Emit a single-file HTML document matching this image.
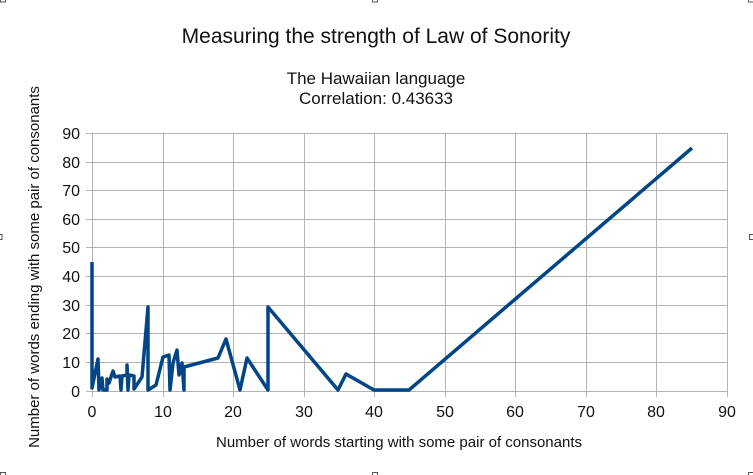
<!DOCTYPE html>
<html><head><style>body{margin:0;background:#fff}svg{display:block}</style></head><body>
<svg width="753" height="475" xmlns="http://www.w3.org/2000/svg" font-family="Liberation Sans, sans-serif">
<rect width="753" height="475" fill="#fff"/>
<g fill="none" stroke="#555" stroke-width="1">
<rect x="0.5" y="-3" width="5" height="5"/><rect x="372.5" y="-3" width="5" height="5"/><rect x="748.5" y="-3" width="5" height="5"/>
<rect x="-3" y="234.5" width="5" height="5"/><rect x="749.5" y="234.5" width="5" height="5"/>
<rect x="0.5" y="472.5" width="5" height="5"/><rect x="372.5" y="472.5" width="5" height="5"/><rect x="748.5" y="472.5" width="5" height="5"/>
</g>
<text x="376" y="43" font-size="21" text-anchor="middle" fill="#111">Measuring the strength of Law of Sonority</text>
<text x="376" y="84" font-size="17" text-anchor="middle" fill="#111">The Hawaiian language</text>
<text x="376" y="104" font-size="17" text-anchor="middle" fill="#111">Correlation: 0.43633</text>
<g stroke="#b3b3b3" stroke-width="1">
<line x1="92" y1="133.5" x2="727" y2="133.5"/><line x1="92" y1="162.5" x2="727" y2="162.5"/><line x1="92" y1="190.5" x2="727" y2="190.5"/><line x1="92" y1="219.5" x2="727" y2="219.5"/><line x1="92" y1="247.5" x2="727" y2="247.5"/><line x1="92" y1="276.5" x2="727" y2="276.5"/><line x1="92" y1="305.5" x2="727" y2="305.5"/><line x1="92" y1="333.5" x2="727" y2="333.5"/><line x1="92" y1="362.5" x2="727" y2="362.5"/><line x1="86" y1="391.5" x2="727" y2="391.5"/>
<line x1="92.5" y1="133" x2="92.5" y2="397"/><line x1="163.5" y1="133" x2="163.5" y2="397"/><line x1="233.5" y1="133" x2="233.5" y2="397"/><line x1="304.5" y1="133" x2="304.5" y2="397"/><line x1="374.5" y1="133" x2="374.5" y2="397"/><line x1="445.5" y1="133" x2="445.5" y2="397"/><line x1="515.5" y1="133" x2="515.5" y2="397"/><line x1="586.5" y1="133" x2="586.5" y2="397"/><line x1="656.5" y1="133" x2="656.5" y2="397"/><line x1="727.5" y1="133" x2="727.5" y2="397"/>
<line x1="86" y1="133.5" x2="92" y2="133.5"/><line x1="86" y1="162.5" x2="92" y2="162.5"/><line x1="86" y1="190.5" x2="92" y2="190.5"/><line x1="86" y1="219.5" x2="92" y2="219.5"/><line x1="86" y1="247.5" x2="92" y2="247.5"/><line x1="86" y1="276.5" x2="92" y2="276.5"/><line x1="86" y1="305.5" x2="92" y2="305.5"/><line x1="86" y1="333.5" x2="92" y2="333.5"/><line x1="86" y1="362.5" x2="92" y2="362.5"/>
</g>
<g font-size="16" fill="#111" text-anchor="end">
<text x="80" y="139">90</text><text x="80" y="168">80</text><text x="80" y="196">70</text><text x="80" y="225">60</text><text x="80" y="253">50</text><text x="80" y="282">40</text><text x="80" y="311">30</text><text x="80" y="339">20</text><text x="80" y="368">10</text><text x="80" y="397">0</text>
</g>
<g font-size="16" fill="#111" text-anchor="middle">
<text x="92" y="417">0</text><text x="163" y="417">10</text><text x="233" y="417">20</text><text x="304" y="417">30</text><text x="374" y="417">40</text><text x="445" y="417">50</text><text x="515" y="417">60</text><text x="586" y="417">70</text><text x="656" y="417">80</text><text x="727" y="417">90</text>
</g>
<text x="399" y="447" font-size="15" text-anchor="middle" fill="#111">Number of words starting with some pair of consonants</text>
<text transform="translate(39,267) rotate(-90)" font-size="15" text-anchor="middle" fill="#111">Number of words ending with some pair of consonants</text>
<polyline fill="none" stroke="#004586" stroke-width="3.5" stroke-linejoin="round" points="92,262 92,388 98,359 99,390 102,378 103,390 107,390 107,379 109,383 113,371 115,377 120,376 121,390 122,376 127,375 127,365 128,390 129,375 134,376 134,389 142,377 148,307 148,390 156,385 163,357 169,355 170,390 173,363 177,350 179,375 182,363 184,390 184,367 218,358 226,339 240,390 247,358 268,390 268,307 338,390 346,374 374,390 409,390 692,148"/>
</svg>
</body></html>
